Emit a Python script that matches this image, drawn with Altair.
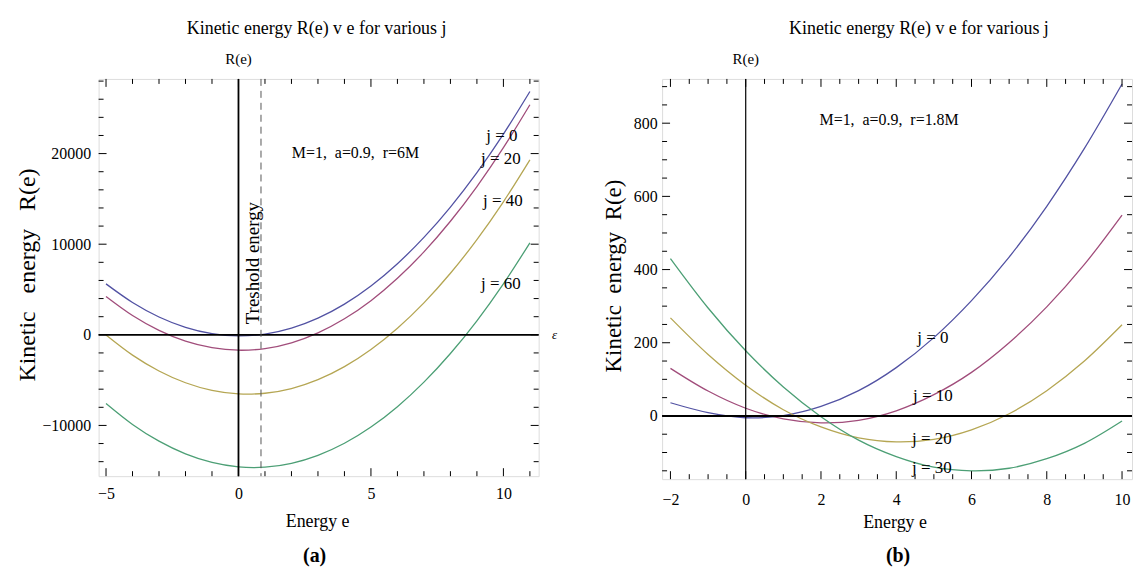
import altair as alt
import pandas as pd

FONT = "Liberation Serif"
NB = "\u00a0"

# ---------------- panel (a): r = 6M ----------------
e_a = [-5, -4, -3, -2, -1, 0, 1, 2, 3, 4, 5, 6, 7, 8, 9, 10, 11]
r_a_j0 = [5620, 3570, 1970, 830, 130, -120, 80, 740, 1840, 3390, 5390, 7850, 10750, 14100, 17900, 22150, 26850]
r_a_j20 = [4230, 2130, 490, -700, -1420, -1700, -1520, -880, 220, 1770, 3770, 6240, 9150, 12530, 16360, 20650, 25390]
r_a_j40 = [-20, -2240, -3990, -5290, -6130, -6520, -6450, -5930, -4950, -3510, -1620, 730, 3530, 6790, 10510, 14680, 19310]
r_a_j60 = [-7580, -9890, -11740, -13140, -14090, -14580, -14610, -14180, -13300, -11970, -10180, -7930, -5220, -2060, 1550, 5630, 10150]
labels_a = ["j = 0", "j = 20", "j = 40", "j = 60"]
threshold_e = 0.85

# ---------------- panel (b): r = 1.8M ----------------
e_b = [-2, -1, 0, 1, 2, 3, 4, 5, 6, 7, 8, 9, 10]
r_b_j0 = [36, 9, -5, 1, 26, 69, 132, 214, 315, 434, 573, 731, 907]
r_b_j10 = [130, 68, 21, -8, -19, -12, 14, 58, 119, 200, 298, 414, 549]
r_b_j20 = [268, 168, 84, 17, -30, -60, -71, -64, -38, 6, 69, 150, 249]
r_b_j30 = [430, 295, 178, 79, -2, -66, -111, -140, -150, -143, -117, -75, -14]
labels_b = ["j = 0", "j = 10", "j = 20", "j = 30"]

series_order = [0, 1, 2, 3]
colors = ["#5252a3", "#a14d7b", "#b5a653", "#4c9f75"]

# tick values
xmaj_a = [-5, 0, 5, 10]
xmin_a = [-4, -3, -2, -1, 1, 2, 3, 4, 6, 7, 8, 9, 11]
ymaj_a = [-10000, 0, 10000, 20000]
ymin_a = [-14000, -12000, -8000, -6000, -4000, -2000, 2000, 4000, 6000, 8000,
          12000, 14000, 16000, 18000, 22000, 24000, 26000, 28000]
xmaj_b = [-2, 0, 2, 4, 6, 8, 10]
xmin_b = [-1.5, -1, -0.5, 0.5, 1, 1.5, 2.5, 3, 3.5, 4.5, 5, 5.5, 6.5, 7, 7.5, 8.5, 9, 9.5]
ymaj_b = [0, 200, 400, 600, 800]
ymin_b = [-150, -100, -50, 50, 100, 150, 250, 300, 350, 450, 500, 550, 650, 700, 750, 850, 900]


def long_df(e, series):
    rows = []
    for k, vals in zip(series_order, series):
        for x, r in zip(e, vals):
            rows.append({"e": x, "R": r, "k": k})
    return pd.DataFrame(rows)


def txt(text, x, y, size, angle=0, align="center", weight="normal", style="normal"):
    return alt.Chart(pd.DataFrame({"t": [text]})).mark_text(
        font=FONT, fontSize=size, angle=angle, align=align, baseline="middle",
        fontWeight=weight, fontStyle=style, color="black"
    ).encode(x=alt.value(x), y=alt.value(y), text="t:N")


def panel(c):
    W, H = c["W"], c["H"]
    xs = alt.Scale(domain=c["xdom"], nice=False, zero=False)
    ys = alt.Scale(domain=c["ydom"], nice=False, zero=False)
    xax = alt.Axis(values=c["xmaj"], title=None, ticks=False, domain=False, grid=False,
                   labelFont=FONT, labelFontSize=16, labelPadding=c["xpad"], format="d",
                   labelColor="black", labelFlush=False, labelOverlap=False)
    yax = alt.Axis(values=c["ymaj"], title=None, ticks=False, domain=False, grid=False,
                   labelFont=FONT, labelFontSize=16, labelPadding=c["ypad"], format="d",
                   labelColor="black", labelOverlap=False)

    def X(f):
        return alt.X(f, type="quantitative", scale=xs, axis=xax)

    def Y(f):
        return alt.Y(f, type="quantitative", scale=ys, axis=yax)

    one = pd.DataFrame({"a": [0]})
    layers = []
    layers.append(
        alt.Chart(c["df"]).mark_line(interpolate="cardinal", strokeWidth=1.3, clip=True).encode(
            x=X("e"), y=Y("R"),
            color=alt.Color("k:N", scale=alt.Scale(domain=series_order, range=colors), legend=None),
        )
    )
    # coordinate axes through the origin
    layers.append(alt.Chart(one).mark_rule(color="black", strokeWidth=c["hzw"]).encode(
        y=alt.YDatum(0, type="quantitative", scale=ys, axis=yax), x=alt.value(0), x2=alt.value(W)))
    layers.append(alt.Chart(one).mark_rule(color="black", strokeWidth=c["vtw"]).encode(
        x=alt.XDatum(0, type="quantitative", scale=xs, axis=xax), y=alt.value(0), y2=alt.value(H)))
    if c.get("threshold") is not None:
        layers.append(alt.Chart(one).mark_rule(color="#555555", strokeWidth=1, strokeDash=[7, 5]).encode(
            x=alt.XDatum(c["threshold"], type="quantitative", scale=xs, axis=xax),
            y=alt.value(0), y2=alt.value(H)))
    # frame ticks (inward), major and minor on all four sides
    for vals, ln in ((c["xmaj"], 8), (c["xmin"], 5)):
        d = pd.DataFrame({"e": vals})
        layers.append(alt.Chart(d).mark_rule(color="black", strokeWidth=1).encode(
            x=X("e"), y=alt.value(H), y2=alt.value(H - ln)))
        layers.append(alt.Chart(d).mark_rule(color="black", strokeWidth=1).encode(
            x=X("e"), y=alt.value(0), y2=alt.value(ln)))
    for vals, ln in ((c["ymaj"], 8), (c["ymin"], 5)):
        d = pd.DataFrame({"R": vals})
        layers.append(alt.Chart(d).mark_rule(color="black", strokeWidth=1).encode(
            y=Y("R"), x=alt.value(0), x2=alt.value(ln)))
        layers.append(alt.Chart(d).mark_rule(color="black", strokeWidth=1).encode(
            y=Y("R"), x=alt.value(W), x2=alt.value(W - ln)))
    # texts
    for t in c["texts"]:
        layers.append(txt(*t[:5], **(t[5] if len(t) > 5 else {})))
    return alt.layer(*layers).properties(width=W, height=H)


title = "Kinetic energy R(e) v e for various j"
ytitle_a = "Kinetic" + NB * 3 + "energy" + NB * 3 + "R(e)"
ytitle_b = "Kinetic" + NB * 2 + "energy" + NB * 2 + "R(e)"

cfg_a = dict(
    W=442, H=399, xdom=[-5.28, 11.33], ydom=[-15600, 28240],
    xmaj=xmaj_a, xmin=xmin_a, ymaj=ymaj_a, ymin=ymin_a, xpad=9, ypad=8,
    df=long_df(e_a, [r_a_j0, r_a_j20, r_a_j40, r_a_j60]),
    hzw=1.8, vtw=1.8, threshold=threshold_e,
    texts=[
        (title, 219, -50, 18, 0),
        ("R(e)", 140.5, -20, 15, 0),
        (ytitle_a, -71, 197, 24, 270),
        ("Energy e", 220, 445, 18, 0),
        ("(a)", 217, 479, 20, 0, {"weight": "bold"}),
        ("M=1," + NB * 2 + "a=0.9," + NB * 2 + "r=6M", 258, 74, 16, 0),
        (labels_a[0], 405, 57, 17, 0),
        (labels_a[1], 404, 80, 17, 0),
        (labels_a[2], 406, 123, 17, 0),
        (labels_a[3], 404, 206, 17, 0),
        ("Treshold energy", 155, 185, 19, 270),
        ("ε", 458, 257, 13, 0, {"style": "italic"}),
    ],
)

cfg_b = dict(
    W=472, H=402, xdom=[-2.222, 10.265], ydom=[-172.8, 921],
    xmaj=xmaj_b, xmin=xmin_b, ymaj=ymaj_b, ymin=ymin_b, xpad=12, ypad=5,
    df=long_df(e_b, [r_b_j0, r_b_j10, r_b_j20, r_b_j30]),
    hzw=2, vtw=1.2, threshold=None,
    texts=[
        (title, 258, -50, 18, 0),
        ("R(e)", 84, -20, 15, 0),
        (ytitle_b, -48, 198, 23, 270),
        ("Energy e", 234, 446, 18, 0),
        ("(b)", 237, 479, 20, 0, {"weight": "bold"}),
        ("M=1," + NB * 2 + "a=0.9," + NB * 2 + "r=1.8M", 228, 41, 16, 0),
        (labels_b[0], 272, 260, 17, 0),
        (labels_b[1], 272, 318, 17, 0),
        (labels_b[2], 271, 362, 17, 0),
        (labels_b[3], 271, 391, 17, 0),
    ],
)

chart = alt.hconcat(panel(cfg_a), panel(cfg_b), spacing=124, bounds="flush").properties(
    padding={"left": 7, "top": 10, "right": 0, "bottom": 0}
).configure_view(stroke="black", strokeWidth=1.5).configure(background="white")

chart.save("out.html", embed_options={"renderer": "svg", "actions": False})
